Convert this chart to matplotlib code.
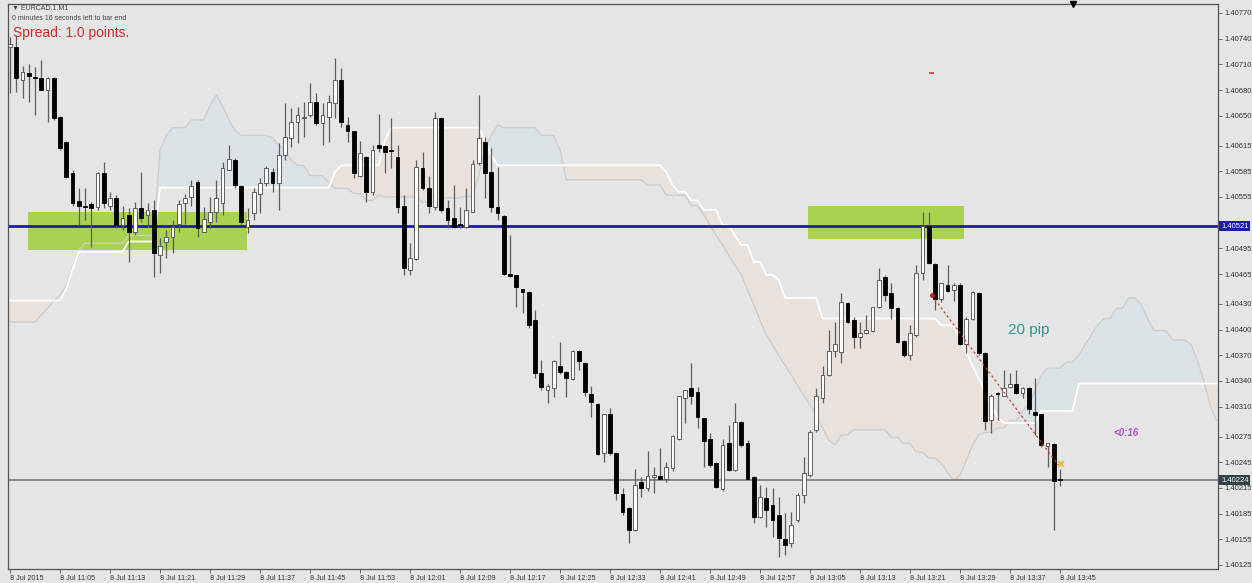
import numpy as np
import matplotlib.pyplot as plt
from matplotlib.patches import Rectangle

plt.rcParams['font.family'] = ['Liberation Sans', 'DejaVu Sans']

# EURCAD M1, 8 Jul 2015, one bar per minute from 10:57 to 13:45
# prices in points (1e-5)
opens = [140730, 140730, 140692, 140700, 140695, 140694, 140680, 140694, 140648, 140619,
         140583, 140550, 140545, 140547, 140543, 140583, 140545, 140554, 140522, 140534,
         140514, 140542, 140534, 140540, 140487, 140502, 140508, 140524, 140548, 140555,
         140573, 140514, 140526, 140537, 140548, 140586, 140598, 140568, 140520, 140536,
         140559, 140571, 140584, 140571, 140604, 140624, 140643, 140647, 140651, 140666,
         140641, 140648, 140665, 140692, 140639, 140632, 140580, 140602, 140561, 140616,
         140614, 140610, 140602, 140545, 140470, 140482, 140589, 140565, 140543, 140647,
         140542, 140530, 140523, 140520, 140538, 140595, 140619, 140584, 140543, 140533,
         140465, 140464, 140448, 140444, 140411, 140349, 140329, 140332, 140358, 140350,
         140342, 140375, 140361, 140325, 140313, 140256, 140301, 140256, 140208, 140191,
         140166, 140222, 140215, 140228, 140229, 140226, 140238, 140272, 140320, 140332,
         140327, 140297, 140272, 140244, 140214, 140267, 140236, 140292, 140267, 140228,
         140181, 140203, 140195, 140183, 140155, 140151, 140177, 140207, 140230, 140283,
         140320, 140347, 140375, 140374, 140431, 140411, 140391, 140396, 140398, 140426,
         140461, 140443, 140425, 140387, 140370, 140394, 140466, 140521, 140477, 140436,
         140452, 140446, 140452, 140383, 140413, 140443, 140373, 140294, 140326, 140323,
         140333, 140337, 140326, 140332, 140304, 140301, 140264, 140266, 140225]
closes = [140734, 140694, 140701, 140696, 140694, 140680, 140694, 140647, 140612, 140578,
          140548, 140545, 140543, 140542, 140583, 140548, 140554, 140522, 140531, 140514,
          140542, 140531, 140540, 140489, 140498, 140508, 140520, 140547, 140554, 140568,
          140519, 140529, 140538, 140554, 140589, 140599, 140569, 140526, 140528, 140561,
          140571, 140589, 140571, 140604, 140625, 140643, 140651, 140648, 140666, 140641,
          140651, 140666, 140692, 140643, 140632, 140583, 140606, 140561, 140610, 140612,
          140607, 140609, 140543, 140472, 140484, 140590, 140565, 140545, 140647, 140540,
          140528, 140520, 140522, 140540, 140593, 140624, 140583, 140543, 140536, 140465,
          140463, 140450, 140444, 140405, 140349, 140333, 140334, 140363, 140350, 140343,
          140375, 140363, 140327, 140315, 140255, 140301, 140256, 140209, 140187, 140166,
          140219, 140215, 140229, 140230, 140226, 140239, 140276, 140322, 140329, 140323,
          140298, 140270, 140242, 140216, 140265, 140236, 140292, 140265, 140226, 140181,
          140204, 140189, 140177, 140156, 140148, 140172, 140207, 140233, 140280, 140323,
          140347, 140375, 140383, 140432, 140409, 140391, 140396, 140399, 140426, 140458,
          140440, 140425, 140385, 140370, 140396, 140466, 140521, 140478, 140436, 140454,
          140445, 140452, 140383, 140413, 140444, 140373, 140293, 140323, 140325, 140332,
          140337, 140326, 140332, 140307, 140300, 140265, 140267, 140223, 140224]
highs = [140742, 140744, 140708, 140710, 140707, 140715, 140695, 140695, 140650, 140621,
         140586, 140566, 140566, 140549, 140584, 140596, 140561, 140557, 140545, 140542,
         140549, 140584, 140548, 140551, 140507, 140516, 140528, 140551, 140559, 140575,
         140575, 140543, 140555, 140575, 140596, 140616, 140600, 140569, 140542, 140565,
         140577, 140591, 140589, 140618, 140665, 140659, 140660, 140666, 140688, 140676,
         140665, 140674, 140717, 140706, 140648, 140632, 140621, 140603, 140616, 140652,
         140616, 140647, 140616, 140557, 140501, 140598, 140607, 140580, 140654, 140648,
         140551, 140569, 140543, 140566, 140598, 140674, 140625, 140612, 140590, 140534,
         140510, 140464, 140448, 140445, 140423, 140364, 140337, 140364, 140385, 140352,
         140376, 140376, 140362, 140334, 140314, 140302, 140309, 140257, 140215, 140193,
         140237, 140228, 140258, 140239, 140262, 140245, 140277, 140323, 140330, 140361,
         140333, 140297, 140279, 140245, 140272, 140288, 140314, 140293, 140271, 140229,
         140218, 140216, 140215, 140205, 140186, 140187, 140209, 140251, 140283, 140332,
         140358, 140399, 140409, 140443, 140432, 140415, 140409, 140417, 140427, 140472,
         140464, 140454, 140426, 140388, 140405, 140475, 140537, 140537, 140478, 140455,
         140475, 140455, 140455, 140415, 140445, 140444, 140374, 140325, 140327, 140353,
         140349, 140353, 140333, 140333, 140343, 140302, 140268, 140267, 140237]
lows = [140676, 140678, 140671, 140666, 140651, 140680, 140643, 140645, 140610, 140577,
        140545, 140522, 140528, 140496, 140540, 140542, 140540, 140519, 140516, 140479,
        140510, 140526, 140520, 140461, 140466, 140484, 140489, 140514, 140524, 140545,
        140508, 140514, 140519, 140526, 140534, 140586, 140566, 140523, 140513, 140528,
        140536, 140568, 140561, 140540, 140598, 140613, 140618, 140625, 140648, 140639,
        140616, 140619, 140647, 140637, 140619, 140577, 140578, 140549, 140557, 140607,
        140583, 140589, 140536, 140464, 140464, 140481, 140563, 140536, 140540, 140537,
        140519, 140519, 140519, 140519, 140537, 140592, 140554, 140537, 140528, 140464,
        140461, 140426, 140420, 140402, 140343, 140329, 140314, 140321, 140348, 140321,
        140341, 140353, 140323, 140298, 140253, 140245, 140253, 140201, 140183, 140151,
        140165, 140204, 140212, 140209, 140225, 140222, 140235, 140271, 140291, 140313,
        140285, 140240, 140239, 140215, 140212, 140235, 140235, 140263, 140225, 140174,
        140180, 140169, 140158, 140134, 140137, 140146, 140175, 140198, 140228, 140280,
        140314, 140346, 140368, 140361, 140408, 140378, 140378, 140395, 140397, 140425,
        140434, 140413, 140384, 140368, 140364, 140391, 140458, 140477, 140423, 140432,
        140444, 140434, 140382, 140373, 140411, 140370, 140283, 140279, 140294, 140322,
        140332, 140325, 140320, 140302, 140277, 140263, 140239, 140166, 140217]

# Ichimoku cloud (Senkou spans, shifted 26 bars ahead)
span_a = ([140409]*5 + [140417, 140425, 140434, 140440, 140452, 140472, 140493] + [140501]*7
          + [140510]*5 + [140610, 140627] + [140636]*3 + [140645]*3
          + [140662, 140674, 140662, 140645, 140633] + [140627]*5 + [140624, 140616, 140610, 140598]
          + [140592]*2 + [140580]*3 + [140572] + [140565]*3 + [140559]*2 + [140551]*2 + [140557]
          + [140555]*6 + [140549]*3 + [140554]*4 + [140556]*2 + [140580, 140610, 140627, 140639]
          + [140636]*6 + [140627]*3 + [140610] + [140575]*13 + [140569]*3 + [140557]*4 + [140545]*2
          + [140534, 140522, 140510, 140499, 140487, 140475, 140464, 140446, 140429, 140411, 140394,
             140382, 140370, 140358, 140347, 140335, 140323, 140312, 140300, 140285, 140271, 140265]
          + [140277]*2 + [140283]*6 + [140274]*2 + [140267]*2 + [140257]*2 + [140250]*2
          + [140244, 140233, 140224, 140230, 140247, 140265, 140277] + [140280]*2 + [140285]*2
          + [140294]*2 + [140304, 140314, 140329, 140347] + [140355]*3 + [140362]*2
          + [140370, 140382, 140394, 140405] + [140413]*2 + [140425]*2 + [140437]*2 + [140429, 140413]
          + [140399]*3 + [140388]*3 + [140382, 140364, 140341, 140312] + [140294]*2)
span_b = ([140434]*9 + [140448, 140470] + [140491]*8 + [140503]*5 + [140566]*28 + [140584]
          + [140592]*7 + [140621] + [140636]*15 + [140621, 140604] + [140592]*27 + [140584, 140569]
          + [140561]*2 + [140551]*2 + [140540]*3 + [140522]*2 + [140510] + [140499]*2 + [140479]*2
          + [140464]*2 + [140458] + [140437]*6 + [140413]*19 + [140405]*3
          + [140388, 140374, 140358, 140343, 140327, 140312, 140298] + [140291]*6 + [140305]*6
          + [140337]*24)

time_labels = ['8 Jul 2015', '8 Jul 11:05', '8 Jul 11:13', '8 Jul 11:21', '8 Jul 11:29',
               '8 Jul 11:37', '8 Jul 11:45', '8 Jul 11:53', '8 Jul 12:01', '8 Jul 12:09',
               '8 Jul 12:17', '8 Jul 12:25', '8 Jul 12:33', '8 Jul 12:41', '8 Jul 12:49',
               '8 Jul 12:57', '8 Jul 13:05', '8 Jul 13:13', '8 Jul 13:21', '8 Jul 13:29',
               '8 Jul 13:37', '8 Jul 13:45']
price_ticks = [140770, 140740, 140710, 140680, 140650, 140615, 140585, 140555, 140495, 140465,
               140430, 140400, 140370, 140340, 140310, 140275, 140245, 140215, 140185, 140155, 140125]

level_line = 140521
bid_price = 140224
# supply zones: (first bar, last bar, low, high)
zones = [(2.9, 37.9, 140493, 140537), (127.7, 152.6, 140506, 140545)]
trend_x = [147.5, 167.7]
trend_y = [140440, 140242]

o = np.array(opens) / 1e5
c = np.array(closes) / 1e5
h = np.array(highs) / 1e5
l = np.array(lows) / 1e5
a = np.array(span_a) / 1e5
b = np.array(span_b) / 1e5
idx = np.arange(len(o))
xs = np.arange(len(a))

bg = '#e5e5e5'
fig = plt.figure(figsize=(12.52, 5.83), dpi=100, facecolor=bg)
ax = fig.add_axes([8/1252, 14/583, 1210/1252, 565/583], facecolor=bg)

# cloud
ax.fill_between(xs, a, b, where=a >= b, interpolate=True, color='#dbe2e6', lw=0, zorder=0.5)
ax.fill_between(xs, a, b, where=a < b, interpolate=True, color='#e9e1dc', lw=0, zorder=0.5)

# zones
for x0, x1, y0, y1 in zones:
    ax.add_patch(Rectangle((x0, y0/1e5), x1 - x0, (y1 - y0)/1e5, color='#a8d24f', lw=0, zorder=1))

ax.plot(xs, a, color='#cdcdcd', lw=1, zorder=1.5)
ax.plot(xs, b, color='white', lw=1.3, zorder=1.5)

ax.axhline(level_line/1e5, color='#1c1cab', lw=2, zorder=2)
ax.axhline(bid_price/1e5, color='#7a7a7a', lw=1.2, zorder=2)

# candles
up = c > o
ax.vlines(idx, l, h, color='#5c5c5c', lw=0.9, zorder=3)
lo = np.minimum(o, c)
ht = np.maximum(np.abs(c - o), 0.000012)
ax.bar(idx[up], ht[up], bottom=lo[up], width=0.62, color='white', edgecolor='#4a4a4a', lw=0.6, zorder=4)
ax.bar(idx[~up], ht[~up], bottom=lo[~up], width=0.62, color='black', edgecolor='black', lw=0.6, zorder=4)

# trend line and marks
ax.plot(trend_x, np.array(trend_y)/1e5, color='#d83a3a', lw=0.9, ls=(0, (2, 2)), zorder=5)
ax.plot(trend_x[0], trend_y[0]/1e5, 'o', color='#c02020', ms=2.5, zorder=5)
ax.plot(168.2, 1.40243, 'x', color='#f0b030', ms=4, mew=1.2, zorder=5)
ax.hlines(1.40700, 147.0, 147.8, color='#e03030', lw=1.2, zorder=5)
ax.plot(170, 1.407805, 'v', color='black', ms=5, clip_on=False, zorder=6)

ax.text(159.7, 1.40399, '20 pip', color='#2a9898', fontsize=11, va='center', ha='left', zorder=6)
ax.text(176.5, 1.40279, '<0:16', color='#b050d0', fontsize=7, style='italic', weight='bold',
        va='center', ha='left', zorder=6)

ax.set_xlim(-0.32, 193.28)
ax.set_ylim(1.401203, 1.407805)

ax.set_xticks(np.arange(0, 169, 8))
ax.set_xticklabels(time_labels, fontsize=5.2, color='#333333', ha='left')
ax.set_yticks(np.array(price_ticks)/1e5)
ax.set_yticklabels(['%.5f' % (p/1e5) for p in price_ticks], fontsize=5.5, color='#333333')
ax.yaxis.tick_right()
ax.tick_params(axis='both', direction='out', length=3, width=0.6, color='#555555', pad=1.5)
for s in ax.spines.values():
    s.set_color('#555555')
    s.set_linewidth(0.9)

# price labels on the right axis
yt = ax.get_yaxis_transform()
ax.text(1.0025, level_line/1e5, '%.5f' % (level_line/1e5), transform=yt, fontsize=5.5, color='white',
        va='center', ha='left', bbox=dict(boxstyle='square,pad=0.2', fc='#1c1cab', ec='none'), clip_on=False)
ax.text(1.0025, bid_price/1e5, '%.5f' % (bid_price/1e5), transform=yt, fontsize=5.5, color='white',
        va='center', ha='left', bbox=dict(boxstyle='square,pad=0.2', fc='#2f4545', ec='none'), clip_on=False)

# header texts
fig.text(12/1252, 1 - 8/583, '\u25bc EURCAD.1.M1', fontsize=5, color='#444444', va='center', ha='left')
fig.text(12/1252, 1 - 19/583, '0 minutes 16 seconds left to bar end', fontsize=5, color='#444444',
         va='center', ha='left')
fig.text(13/1252, 1 - 33/583, 'Spread: 1.0 points.', fontsize=10, color='#e02828', va='center', ha='left')

fig.savefig('out.png', dpi=100, facecolor=bg)
